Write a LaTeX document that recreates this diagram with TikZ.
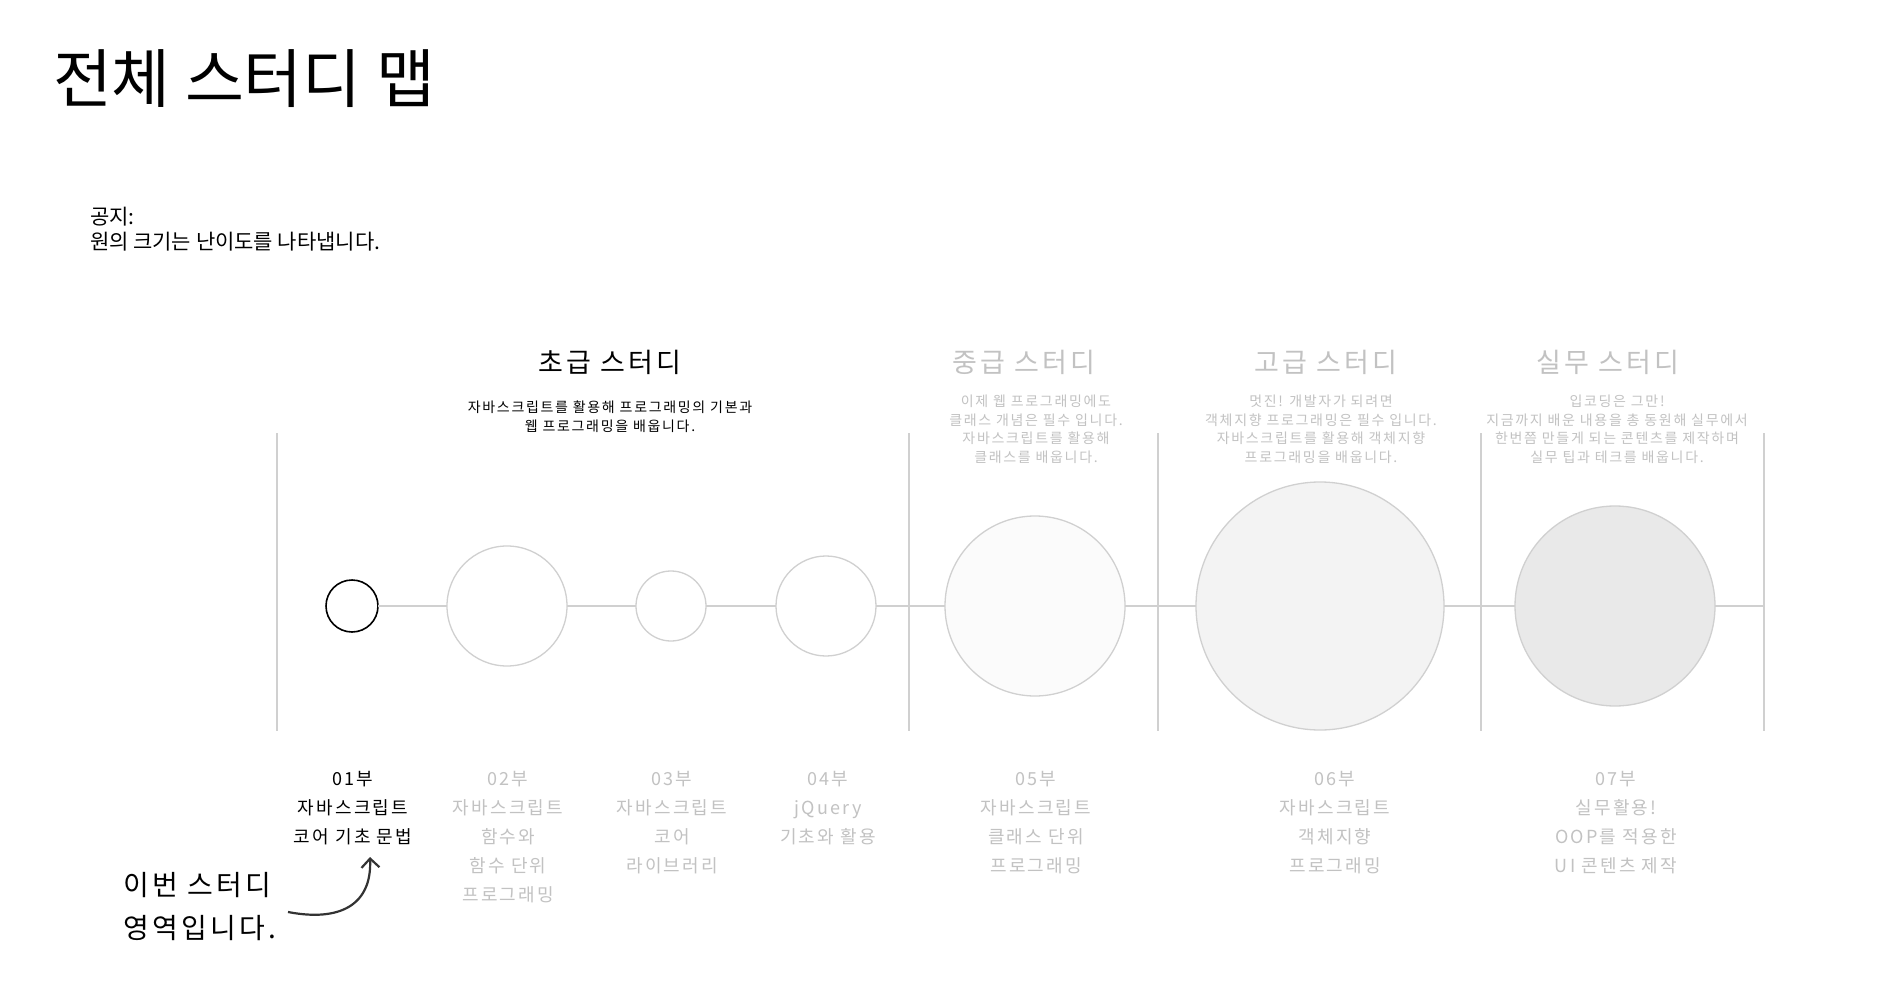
\documentclass[tikz,border=0pt]{standalone}
\usepackage{fontspec}
\setmainfont{Noto Sans CJK KR}
\newfontfamily\spacedfont[LetterSpace=12]{Noto Sans CJK KR}
\usetikzlibrary{arrows.meta}
\definecolor{txtgray}{HTML}{C2C2C2}
\definecolor{linegray}{HTML}{D0D0D0}
\definecolor{fillA}{HTML}{FBFBFB}
\definecolor{fillB}{HTML}{F3F3F3}
\definecolor{fillC}{HTML}{E9E9E9}
\definecolor{arrowgray}{HTML}{333333}
\begin{document}
\begin{tikzpicture}[x=1pt,y=-1pt,
  every node/.style={inner sep=0pt, outer sep=0pt},
  bubble/.style={circle, draw=linegray, line width=1.3pt, minimum size=#1},
  conn/.style={draw=linegray, line width=1.4pt},
  vline/.style={draw=linegray, line width=1.5pt},
  head/.style={font=\spacedfont\fontsize{27}{32}\selectfont, anchor=center},
  desc/.style={font=\spacedfont\fontsize{14}{18.7}\selectfont, align=center, anchor=north},
  lab/.style={font=\spacedfont\fontsize{18}{29}\selectfont, align=center, anchor=north, text=txtgray},
  arr/.style={draw=arrowgray, line width=2.2pt, -{Straight Barb[length=9pt,width=18pt]}}
]
\fill[white] (0,0) rectangle (1900,1000);
\useasboundingbox (0,0) rectangle (1900,1000);

% title and notice
\node[anchor=north west, font=\fontsize{64}{70}\selectfont] (title) at (53,50) {전체 스터디 맵};
\node[anchor=north west, align=left, font=\fontsize{21}{25}\selectfont] (notice) at (90,207) {공지:\\원의 크기는 난이도를 나타냅니다.};

% section headings
\node[head] (h1) at (610,362) {초급 스터디};
\node[head, text=txtgray] (h2) at (1024,362) {중급 스터디};
\node[head, text=txtgray] (h3) at (1326,362) {고급 스터디};
\node[head, text=txtgray] (h4) at (1608,362) {실무 스터디};

\node[desc] (d1) at (610,401) {자바스크립트를 활용해 프로그래밍의 기본과\\웹 프로그래밍을 배웁니다.};
\node[desc, text=txtgray] (d2) at (1036,395) {이제 웹 프로그래밍에도\\클래스 개념은 필수 입니다.\\자바스크립트를 활용해\\클래스를 배웁니다.};
\node[desc, text=txtgray] (d3) at (1321,395) {멋진! 개발자가 되려면\\객체지향 프로그래밍은 필수 입니다.\\자바스크립트를 활용해 객체지향\\프로그래밍을 배웁니다.};
\node[desc, text=txtgray] (d4) at (1617,395) {입코딩은 그만!\\지금까지 배운 내용을 총 동원해 실무에서\\한번쯤 만들게 되는 콘텐츠를 제작하며\\실무 팁과 테크를 배웁니다.};

% vertical separators
\foreach \i/\x in {1/277,2/909,3/1158,4/1481,5/1764}{
  \coordinate (v\i t) at (\x,433);
  \coordinate (v\i b) at (\x,731);
  \draw[vline] (v\i t) -- (v\i b);
}
\coordinate (vend) at (1764,606);

% circles
\node[bubble=52pt, draw=black, line width=1.6pt] (c1) at (352,606) {};
\node[bubble=120pt] (c2) at (507,606) {};
\node[bubble=70pt] (c3) at (671,606) {};
\node[bubble=100pt] (c4) at (826,606) {};
\node[bubble=180pt, fill=fillA] (c5) at (1035,606) {};
\node[bubble=248pt, fill=fillB] (c6) at (1320,606) {};
\node[bubble=200pt, fill=fillC] (c7) at (1615,606) {};

\draw[conn] (c1) -- (c2);
\draw[conn] (c2) -- (c3);
\draw[conn] (c3) -- (c4);
\draw[conn] (c4) -- (c5);
\draw[conn] (c5) -- (c6);
\draw[conn] (c6) -- (c7);
\draw[conn] (c7) -- (vend);

% part labels
\node[lab, text=black] (l1) at (353,771) {01부\\자바스크립트\\코어 기초 문법};
\node[lab] (l2) at (508,771) {02부\\자바스크립트\\함수와\\함수 단위\\프로그래밍};
\node[lab] (l3) at (672,771) {03부\\자바스크립트\\코어\\라이브러리};
\node[lab] (l4) at (828,771) {04부\\jQuery\\기초와 활용};
\node[lab] (l5) at (1036,771) {05부\\자바스크립트\\클래스 단위\\프로그래밍};
\node[lab] (l6) at (1335,771) {06부\\자바스크립트\\객체지향\\프로그래밍};
\node[lab] (l7) at (1616,771) {07부\\실무활용!\\OOP를 적용한\\UI 콘텐츠 제작};

% note with arrow
\node[anchor=north west, align=left, font=\spacedfont\fontsize{28}{43}\selectfont] (note) at (123,872) {이번 스터디\\영역입니다.};
\coordinate (as) at (288,912);
\coordinate (ae) at (370,857);
\draw[arr] (as) .. controls (340,922) and (372,905) .. (ae);
\end{tikzpicture}
\end{document}
